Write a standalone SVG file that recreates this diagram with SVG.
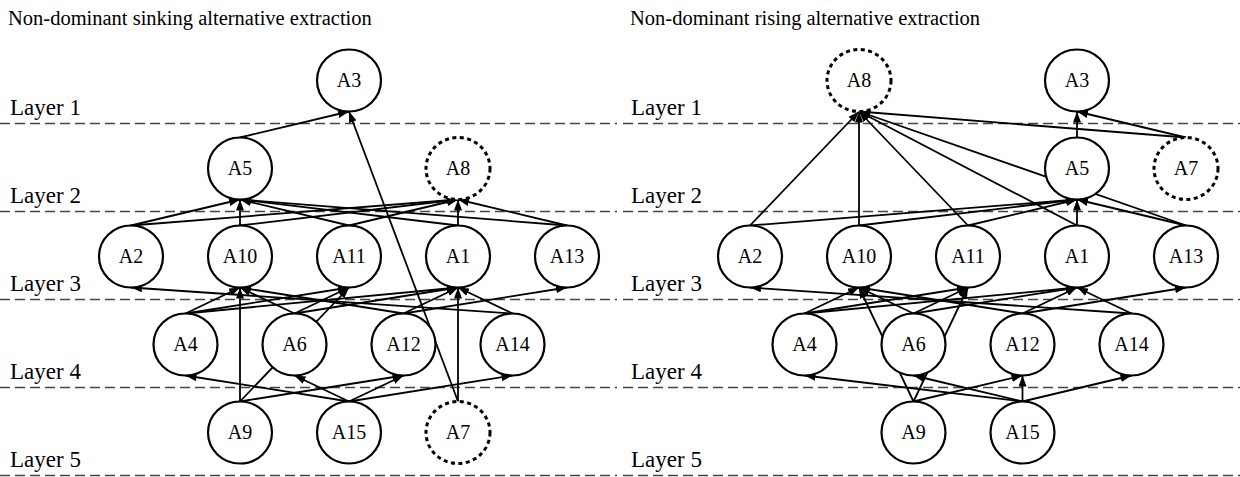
<svg xmlns="http://www.w3.org/2000/svg" width="1240" height="477" viewBox="0 0 1240 477">
<defs>
<marker id="ah" viewBox="0 0 11 8" refX="11" refY="4" markerWidth="11" markerHeight="8" markerUnits="userSpaceOnUse" orient="auto"><path d="M0,0 L11,4 L0,8 z" fill="#000"/></marker>
</defs>
<style>
.bg{fill:#fff}
.title{font-family:"Liberation Serif","Times New Roman",serif;font-size:20.5px;fill:#000}
.layer{font-family:"Liberation Serif","Times New Roman",serif;font-size:23px;fill:#000}
.lab{font-family:"Liberation Serif","Times New Roman",serif;font-size:20px;fill:#000;text-anchor:middle}
.sep{stroke:#444;stroke-width:1.6;stroke-dasharray:10,5;fill:none}
.n ellipse{fill:#fff;stroke:#000;stroke-width:2.2}
.d ellipse{fill:#fff;stroke:#000;stroke-width:3;stroke-dasharray:4,3.5}
#connectors line{stroke:#000;stroke-width:1.8;marker-end:url(#ah)}
</style>
<rect class="bg" x="0" y="0" width="1240" height="477"/>
<text class="title" x="8" y="25">Non-dominant sinking alternative extraction</text>
<text class="title" x="630" y="25">Non-dominant rising alternative extraction</text>
<g id="layers">
<line class="sep" x1="0" y1="123.5" x2="617" y2="123.5"/>
<line class="sep" x1="0" y1="211.5" x2="617" y2="211.5"/>
<line class="sep" x1="0" y1="299.5" x2="617" y2="299.5"/>
<line class="sep" x1="0" y1="387.5" x2="617" y2="387.5"/>
<line class="sep" x1="0" y1="475.5" x2="617" y2="475.5"/>
<line class="sep" x1="623" y1="123.5" x2="1240" y2="123.5"/>
<line class="sep" x1="623" y1="211.5" x2="1240" y2="211.5"/>
<line class="sep" x1="623" y1="299.5" x2="1240" y2="299.5"/>
<line class="sep" x1="623" y1="387.5" x2="1240" y2="387.5"/>
<line class="sep" x1="623" y1="475.5" x2="1240" y2="475.5"/>
<text class="layer" x="10" y="114.5">Layer 1</text>
<text class="layer" x="10" y="202.5">Layer 2</text>
<text class="layer" x="10" y="290.5">Layer 3</text>
<text class="layer" x="10" y="378.5">Layer 4</text>
<text class="layer" x="10" y="466.5">Layer 5</text>
<text class="layer" x="631" y="114.5">Layer 1</text>
<text class="layer" x="631" y="202.5">Layer 2</text>
<text class="layer" x="631" y="290.5">Layer 3</text>
<text class="layer" x="631" y="378.5">Layer 4</text>
<text class="layer" x="631" y="466.5">Layer 5</text>
</g>
<g id="connectors">
<!-- left -->
<line x1="240" y1="137.5" x2="349" y2="111.5"/>
<line x1="458" y1="401.5" x2="349" y2="111.5"/>
<line x1="131" y1="225.5" x2="240" y2="199.5"/>
<line x1="131" y1="225.5" x2="458" y2="199.5"/>
<line x1="240" y1="225.5" x2="240" y2="199.5"/>
<line x1="240" y1="225.5" x2="458" y2="199.5"/>
<line x1="349" y1="225.5" x2="240" y2="199.5"/>
<line x1="349" y1="225.5" x2="458" y2="199.5"/>
<line x1="458" y1="225.5" x2="240" y2="199.5"/>
<line x1="458" y1="225.5" x2="458" y2="199.5"/>
<line x1="567" y1="225.5" x2="240" y2="199.5"/>
<line x1="567" y1="225.5" x2="458" y2="199.5"/>
<line x1="185.5" y1="313.5" x2="240" y2="287.5"/>
<line x1="185.5" y1="313.5" x2="349" y2="287.5"/>
<line x1="185.5" y1="313.5" x2="458" y2="287.5"/>
<line x1="294.5" y1="313.5" x2="240" y2="287.5"/>
<line x1="294.5" y1="313.5" x2="349" y2="287.5"/>
<line x1="294.5" y1="313.5" x2="458" y2="287.5"/>
<line x1="403.5" y1="313.5" x2="240" y2="287.5"/>
<line x1="403.5" y1="313.5" x2="458" y2="287.5"/>
<line x1="403.5" y1="313.5" x2="567" y2="287.5"/>
<line x1="512.5" y1="313.5" x2="458" y2="287.5"/>
<line x1="512.5" y1="313.5" x2="131" y2="287.5"/>
<line x1="240" y1="401.5" x2="240" y2="287.5"/>
<line x1="240" y1="401.5" x2="349" y2="287.5"/>
<line x1="240" y1="401.5" x2="403.5" y2="375.5"/>
<line x1="349" y1="401.5" x2="185.5" y2="375.5"/>
<line x1="349" y1="401.5" x2="294.5" y2="375.5"/>
<line x1="349" y1="401.5" x2="403.5" y2="375.5"/>
<line x1="349" y1="401.5" x2="512.5" y2="375.5"/>
<line x1="458" y1="401.5" x2="458" y2="287.5"/>
<!-- right -->
<line x1="1077" y1="137.5" x2="1077" y2="111.5"/>
<line x1="1186" y1="137.5" x2="1077" y2="111.5"/>
<line x1="1186" y1="137.5" x2="859" y2="111.5"/>
<line x1="750" y1="225.5" x2="859" y2="111.5"/>
<line x1="859" y1="225.5" x2="859" y2="111.5"/>
<line x1="968" y1="225.5" x2="859" y2="111.5"/>
<line x1="1077" y1="225.5" x2="859" y2="111.5"/>
<line x1="1186" y1="225.5" x2="859" y2="111.5"/>
<line x1="750" y1="225.5" x2="1077" y2="199.5"/>
<line x1="859" y1="225.5" x2="1077" y2="199.5"/>
<line x1="968" y1="225.5" x2="1077" y2="199.5"/>
<line x1="1077" y1="225.5" x2="1077" y2="199.5"/>
<line x1="1186" y1="225.5" x2="1077" y2="199.5"/>
<line x1="804.5" y1="313.5" x2="859" y2="287.5"/>
<line x1="804.5" y1="313.5" x2="968" y2="287.5"/>
<line x1="804.5" y1="313.5" x2="1077" y2="287.5"/>
<line x1="913.5" y1="313.5" x2="859" y2="287.5"/>
<line x1="913.5" y1="313.5" x2="968" y2="287.5"/>
<line x1="913.5" y1="313.5" x2="1077" y2="287.5"/>
<line x1="1022.5" y1="313.5" x2="859" y2="287.5"/>
<line x1="1022.5" y1="313.5" x2="1077" y2="287.5"/>
<line x1="1022.5" y1="313.5" x2="1186" y2="287.5"/>
<line x1="1131.5" y1="313.5" x2="1077" y2="287.5"/>
<line x1="1131.5" y1="313.5" x2="750" y2="287.5"/>
<line x1="913.5" y1="401.5" x2="859" y2="287.5"/>
<line x1="913.5" y1="401.5" x2="968" y2="287.5"/>
<line x1="913.5" y1="401.5" x2="1022.5" y2="375.5"/>
<line x1="1022.5" y1="401.5" x2="804.5" y2="375.5"/>
<line x1="1022.5" y1="401.5" x2="913.5" y2="375.5"/>
<line x1="1022.5" y1="401.5" x2="1022.5" y2="375.5"/>
<line x1="1022.5" y1="401.5" x2="1131.5" y2="375.5"/>
</g>
<!-- left nodes -->
<g id="L-A3" class="n"><ellipse cx="349" cy="80.5" rx="32" ry="31"/><text class="lab" x="349" y="87">A3</text></g>
<g id="L-A5" class="n"><ellipse cx="240" cy="168.5" rx="32" ry="31"/><text class="lab" x="240" y="175">A5</text></g>
<g id="L-A8" class="d"><ellipse cx="458" cy="168.5" rx="32" ry="31"/><text class="lab" x="458" y="175">A8</text></g>
<g id="L-A2" class="n"><ellipse cx="131" cy="256.5" rx="32" ry="31"/><text class="lab" x="131" y="263">A2</text></g>
<g id="L-A10" class="n"><ellipse cx="240" cy="256.5" rx="32" ry="31"/><text class="lab" x="240" y="263">A10</text></g>
<g id="L-A11" class="n"><ellipse cx="349" cy="256.5" rx="32" ry="31"/><text class="lab" x="349" y="263">A11</text></g>
<g id="L-A1" class="n"><ellipse cx="458" cy="256.5" rx="32" ry="31"/><text class="lab" x="458" y="263">A1</text></g>
<g id="L-A13" class="n"><ellipse cx="567" cy="256.5" rx="32" ry="31"/><text class="lab" x="567" y="263">A13</text></g>
<g id="L-A4" class="n"><ellipse cx="185.5" cy="344.5" rx="32" ry="31"/><text class="lab" x="185.5" y="351">A4</text></g>
<g id="L-A6" class="n"><ellipse cx="294.5" cy="344.5" rx="32" ry="31"/><text class="lab" x="294.5" y="351">A6</text></g>
<g id="L-A12" class="n"><ellipse cx="403.5" cy="344.5" rx="32" ry="31"/><text class="lab" x="403.5" y="351">A12</text></g>
<g id="L-A14" class="n"><ellipse cx="512.5" cy="344.5" rx="32" ry="31"/><text class="lab" x="512.5" y="351">A14</text></g>
<g id="L-A9" class="n"><ellipse cx="240" cy="432.5" rx="32" ry="31"/><text class="lab" x="240" y="439">A9</text></g>
<g id="L-A15" class="n"><ellipse cx="349" cy="432.5" rx="32" ry="31"/><text class="lab" x="349" y="439">A15</text></g>
<g id="L-A7" class="d"><ellipse cx="458" cy="432.5" rx="32" ry="31"/><text class="lab" x="458" y="439">A7</text></g>
<!-- right nodes -->
<g id="R-A8" class="d"><ellipse cx="859" cy="80.5" rx="32" ry="31"/><text class="lab" x="859" y="87">A8</text></g>
<g id="R-A3" class="n"><ellipse cx="1077" cy="80.5" rx="32" ry="31"/><text class="lab" x="1077" y="87">A3</text></g>
<g id="R-A5" class="n"><ellipse cx="1077" cy="168.5" rx="32" ry="31"/><text class="lab" x="1077" y="175">A5</text></g>
<g id="R-A7" class="d"><ellipse cx="1186" cy="168.5" rx="32" ry="31"/><text class="lab" x="1186" y="175">A7</text></g>
<g id="R-A2" class="n"><ellipse cx="750" cy="256.5" rx="32" ry="31"/><text class="lab" x="750" y="263">A2</text></g>
<g id="R-A10" class="n"><ellipse cx="859" cy="256.5" rx="32" ry="31"/><text class="lab" x="859" y="263">A10</text></g>
<g id="R-A11" class="n"><ellipse cx="968" cy="256.5" rx="32" ry="31"/><text class="lab" x="968" y="263">A11</text></g>
<g id="R-A1" class="n"><ellipse cx="1077" cy="256.5" rx="32" ry="31"/><text class="lab" x="1077" y="263">A1</text></g>
<g id="R-A13" class="n"><ellipse cx="1186" cy="256.5" rx="32" ry="31"/><text class="lab" x="1186" y="263">A13</text></g>
<g id="R-A4" class="n"><ellipse cx="804.5" cy="344.5" rx="32" ry="31"/><text class="lab" x="804.5" y="351">A4</text></g>
<g id="R-A6" class="n"><ellipse cx="913.5" cy="344.5" rx="32" ry="31"/><text class="lab" x="913.5" y="351">A6</text></g>
<g id="R-A12" class="n"><ellipse cx="1022.5" cy="344.5" rx="32" ry="31"/><text class="lab" x="1022.5" y="351">A12</text></g>
<g id="R-A14" class="n"><ellipse cx="1131.5" cy="344.5" rx="32" ry="31"/><text class="lab" x="1131.5" y="351">A14</text></g>
<g id="R-A9" class="n"><ellipse cx="913.5" cy="432.5" rx="32" ry="31"/><text class="lab" x="913.5" y="439">A9</text></g>
<g id="R-A15" class="n"><ellipse cx="1022.5" cy="432.5" rx="32" ry="31"/><text class="lab" x="1022.5" y="439">A15</text></g>
</svg>
